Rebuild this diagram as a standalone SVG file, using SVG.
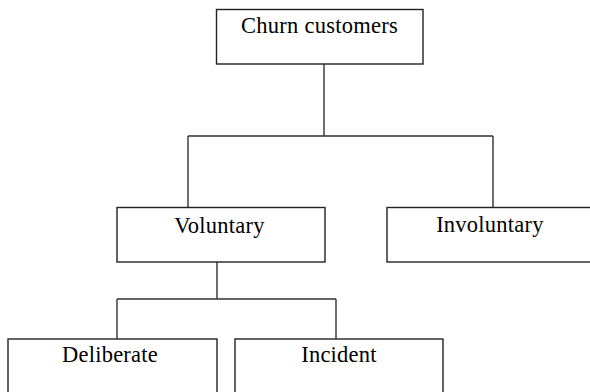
<svg xmlns="http://www.w3.org/2000/svg" width="590" height="392" viewBox="0 0 590 392">
<style>
.box{fill:#fff;stroke:#222;stroke-width:1.4}
.lbl{font-family:"Liberation Serif","Times New Roman",serif;font-size:22.5px;letter-spacing:0.25px;fill:#000;text-anchor:middle}
.con{fill:none;stroke:#333;stroke-width:1.4}
</style>
<rect width="590" height="392" fill="#fff"/>
<g id="connectors">
<path class="con" d="M324 64 V136 M188 136 H493 M188 136 V207.5 M493 136 V207.5"/>
<path class="con" d="M217 262 V299 M117 299 H336 M117 299 V339 M336 299 V339"/>
</g>
<g id="churn"><rect class="box" x="216.5" y="9.5" width="206.5" height="54.5"/><text class="lbl" x="319.5" y="33">Churn customers</text></g>
<g id="voluntary"><rect class="box" x="117" y="207.5" width="208" height="54.5"/><text class="lbl" x="219.5" y="232.5">Voluntary</text></g>
<g id="involuntary"><rect class="box" x="387" y="207.5" width="215" height="54.5"/><text class="lbl" x="490" y="232">Involuntary</text></g>
<g id="deliberate"><rect class="box" x="8" y="339" width="209" height="60"/><text class="lbl" x="110" y="362">Deliberate</text></g>
<g id="incident"><rect class="box" x="235" y="339" width="208" height="60"/><text class="lbl" x="339" y="362">Incident</text></g>
</svg>
